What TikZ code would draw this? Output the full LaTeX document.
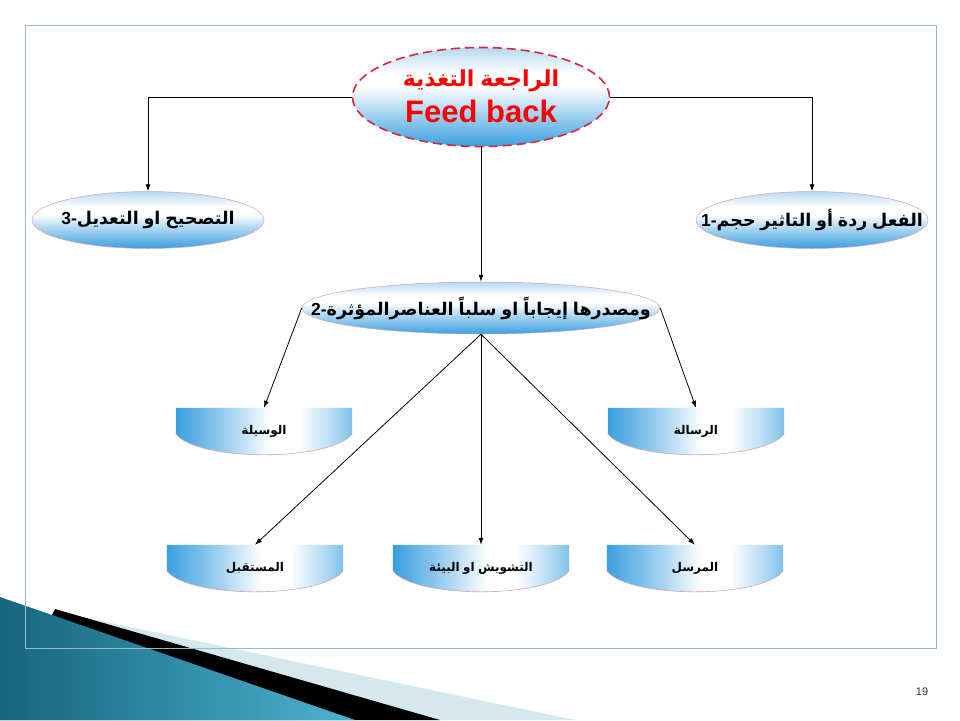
\documentclass[tikz,border=0pt]{standalone}
\usepackage{fontspec}
\setmainfont{Liberation Sans}
\newfontfamily\arabicfont[Script=Arabic]{DejaVu Sans}
\usetikzlibrary{shapes.geometric,arrows.meta,backgrounds,calc}
\newcommand{\ar}[1]{{\arabicfont #1}}
\definecolor{frameC}{HTML}{8DBFC4}
\definecolor{bA}{HTML}{3A9FE0}
\definecolor{bT}{HTML}{B5D9F0}
\definecolor{pinkB}{HTML}{D8A0B4}
\definecolor{redT}{HTML}{FF0000}
\definecolor{redD}{HTML}{D9263A}
\definecolor{tealD}{HTML}{17657E}
\definecolor{tealL}{HTML}{4CB2D0}
\definecolor{paleB}{HTML}{D5E8EE}
\pgfdeclareverticalshading{ellsh}{100bp}{color(0bp)=(bA); color(25bp)=(bA); color(42bp)=(bA!45!white); color(55bp)=(white); color(62bp)=(white); color(75bp)=(bT); color(100bp)=(bT)}
\pgfdeclarehorizontalshading{boxsh}{100bp}{color(0bp)=(bA); color(25bp)=(bA); color(38bp)=(bA!55!white); color(52bp)=(white); color(60bp)=(white); color(70bp)=(bA!40!white); color(75bp)=(bA!65!white); color(100bp)=(bA!65!white)}
\tikzset{
  topell/.style={ellipse, minimum width=257, minimum height=99, inner sep=0, draw=redD, line width=1.6pt, dash pattern=on 9pt off 5pt, shading=ellsh},
  sideell/.style={ellipse, minimum width=232, minimum height=57, inner sep=0, draw=pinkB, line width=0.5pt, shading=ellsh},
  midell/.style={ellipse, minimum width=358, minimum height=52, inner sep=0, draw=pinkB, line width=0.5pt, shading=ellsh},
  ltext/.style={inner sep=0, font=\bfseries\fontsize{17.5}{20}\selectfont},
  boxn/.style={minimum width=176, minimum height=47, inner sep=0, font=\bfseries\fontsize{12}{14}\selectfont},
  arr/.style={draw=black, line width=0.8pt, -{Latex[length=7pt,width=5pt]}},
}
\begin{document}
\begin{tikzpicture}[x=1pt,y=-1pt]
\useasboundingbox (0,0) rectangle (960,720);
\begin{scope}[on background layer]
\fill[white] (0,0) rectangle (960,720);
% decoration
\fill[paleB] (58,612) -- (575,720) -- (0,720) -- cycle;
\fill[black] (55,609) -- (440,720) -- (0,720) -- cycle;
\shade[left color=tealD, right color=tealL] (0,597) -- (355,720) -- (0,720) -- cycle;
\draw[frameC, line width=0.8pt] (25,25) rectangle (936,648);
\end{scope}
\node[font=\fontsize{11}{13}\selectfont, text=black!80] (pg) at (922,692) {19};
% ellipses
\node[topell] (fb) at (481,97) {};
\node[align=center, text=redT, font=\bfseries, inner sep=0] (fbt) at (481,96) {{\fontsize{22}{26}\selectfont\ar{التغذية} \ar{الراجعة}}\\[7pt]{\fontsize{31}{34}\selectfont Feed back}};
\node[sideell] (lft) at (148,220) {};
\node[ltext] (lftt) at (148,220) {3-\ar{التعديل} \ar{او} \ar{التصحيح}};
\node[sideell] (rgt) at (812,220) {};
\node[ltext] (rgtt) at (812,220) {1-\ar{حجم} \ar{التاثير} \ar{أو} \ar{ردة} \ar{الفعل}};
\node[midell] (mid) at (481,308) {};
\node[ltext] (midt) at (481,308) {2-\ar{العناصرالمؤثرة} \ar{سلباً} \ar{او} \ar{إيجاباً} \ar{ومصدرها}};
% boxes
\node[boxn] (wasila) at (264,431.5) {\ar{الوسيلة}};
\node[boxn] (risala) at (696,431.5) {\ar{الرسالة}};
\node[boxn] (mustaqbil) at (255,568.5) {\ar{المستقبل}};
\node[boxn] (bia) at (481,568.5) {\ar{البيئة} \ar{او} \ar{التشويش}};
\node[boxn] (mursil) at (695,568.5) {\ar{المرسل}};
\begin{scope}[on background layer]
\foreach \n in {wasila,risala,mustaqbil,bia,mursil}{
  \shade[shading=boxsh] (\n.north west) -- (\n.north east) -- ($(\n.north east)+(0,26)$) .. controls ($(\n.north east)+(-22,54)$) and ($(\n.north west)+(22,54)$) .. ($(\n.north west)+(0,26)$) -- cycle;
  \draw[pinkB, line width=0.6pt] ($(\n.north east)+(0,26)$) .. controls ($(\n.north east)+(-22,54)$) and ($(\n.north west)+(22,54)$) .. ($(\n.north west)+(0,26)$);
}
\end{scope}
% connectors
\draw[arr] (fb.west) -| (lft.north);
\draw[arr] (fb.east) -| (rgt.north);
\draw[arr] (fb.south) -- (mid.north);
\draw[arr] (mid.west) -- (wasila.north);
\draw[arr] (mid.east) -- (risala.north);
\draw[arr] (mid.south) -- (mustaqbil.north);
\draw[arr] (mid.south) -- (bia.north);
\draw[arr] (mid.south) -- (mursil.north);
\end{tikzpicture}
\end{document}
